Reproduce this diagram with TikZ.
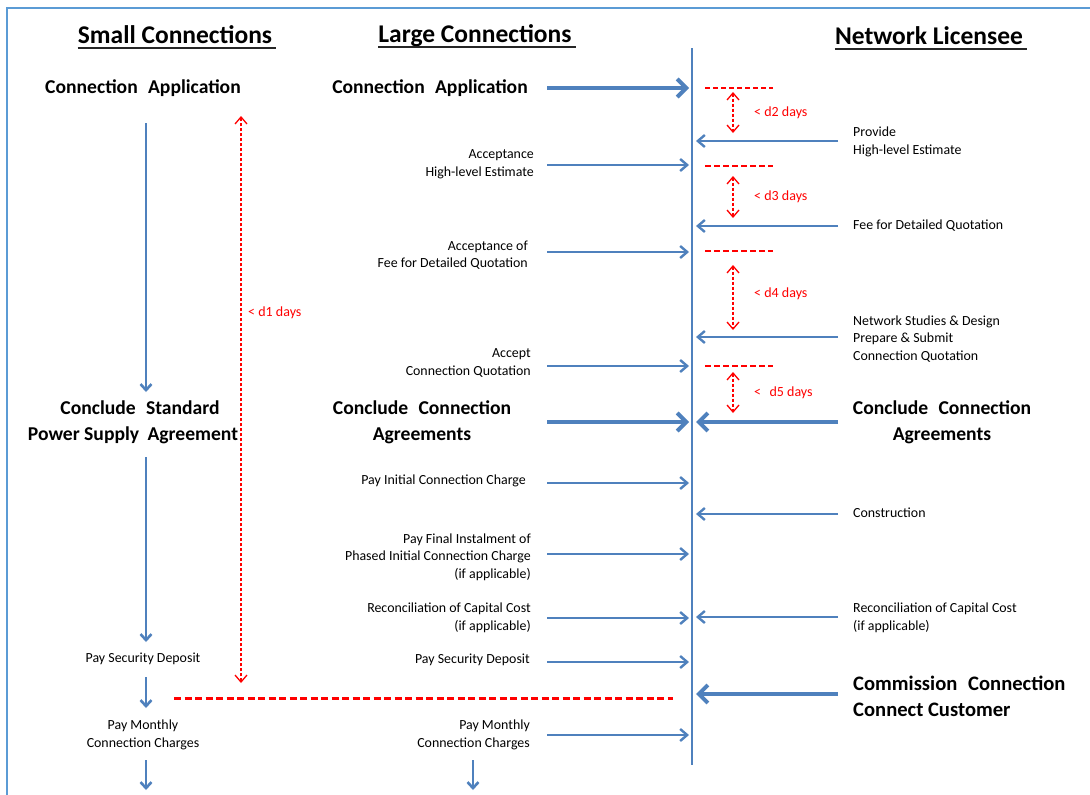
\documentclass[tikz,border=0pt]{standalone}
\usepackage{fontspec}
\setmainfont{Carlito}
\usetikzlibrary{arrows.meta}
\definecolor{lblue}{RGB}{79,129,189}
\definecolor{fblue}{RGB}{91,155,213}
\definecolor{dred}{RGB}{255,0,0}
\newcommand{\fhdr}{\fontsize{25.5}{28}\selectfont\bfseries}
\newcommand{\fbig}{\fontsize{19.6}{26}\selectfont\bfseries}
\newcommand{\fcom}{\fontsize{20.6}{26}\selectfont\bfseries}
\newcommand{\fsm}{\fontsize{13.9}{17.5}\selectfont}
\newcommand{\fred}{\fontsize{14}{16}\selectfont}
\tikzset{
  hdr/.style={font=\fhdr, inner sep=0pt},
  big/.style={font=\fbig, inner sep=0pt, align=center},
  com/.style={font=\fcom, inner sep=0pt, align=left, anchor=west},
  lt/.style={font=\fsm, inner sep=0pt, align=right, anchor=east},
  rt/.style={font=\fsm, inner sep=0pt, align=left, anchor=west},
  ct/.style={font=\fsm, inner sep=0pt, align=center},
  redlab/.style={font=\fred, text=dred, inner sep=0pt, anchor=west},
  thinarr/.style={draw=lblue, line width=2.4pt, -{Straight Barb[length=7pt,width=12pt]}},
  thickarr/.style={draw=lblue, line width=4pt, -{Straight Barb[length=9pt,width=18pt]}},
  downarr/.style={draw=lblue, line width=2.6pt, -{Straight Barb[length=6pt,width=11pt]}},
  darr/.style={draw=dred, line width=1.3pt, densely dashed, {Straight Barb[length=7pt,width=12pt]}-{Straight Barb[length=7pt,width=12pt]}},
  rdash/.style={draw=dred, line width=2.5pt, dash pattern=on 6pt off 3pt},
  rdashthin/.style={draw=dred, line width=1.2pt, dash pattern=on 5pt off 3pt},
  uline/.style={draw=black!85, line width=1.8pt},
}
\begin{document}
\begin{tikzpicture}[x=1pt,y=-1pt]
\useasboundingbox (0,0) rectangle (1090,795);
\fill[white] (0,0) rectangle (1090,795);
% frame
\draw[fblue, line width=2pt] (7,800) -- (7,8) -- (1095,8);

% headers
\node[hdr] (hs) at (175,35) {Small Connections};
\node[hdr] (hl) at (475,36) {Large Connections};
\node[hdr] (hn) at (929,36) {Network Licensee};
\draw[uline] ([yshift=-4pt]hs.base west) -- ([yshift=-4pt,xshift=4pt]hs.base east);
\draw[uline] ([yshift=-4pt]hl.base west) -- ([yshift=-4pt,xshift=4pt]hl.base east);
\draw[uline] ([yshift=-4pt]hn.base west) -- ([yshift=-4pt,xshift=4pt]hn.base east);

% vertical timeline
\coordinate (vt) at (692,48);
\coordinate (vb) at (692,765);
\draw[lblue, line width=2.4pt] (vt) -- (vb);

% small connections column
\node[big] (sa) at (143,88) {Connection\hspace{0.3em} Application};
\node[big] (ss) at (133,422) {\hspace*{14pt}Conclude\hspace{0.3em} Standard\\Power Supply\hspace{0.2em} Agreement};
\node[ct] (sp) at (143,659) {Pay Security Deposit};
\node[ct] (sm) at (143,735) {Pay Monthly\\Connection Charges};
\coordinate (s1a) at (146,123); \coordinate (s1b) at (146,392);
\coordinate (s2a) at (146,457); \coordinate (s2b) at (146,642);
\coordinate (s3a) at (146,677); \coordinate (s3b) at (146,708);
\coordinate (s4a) at (146,760); \coordinate (s4b) at (146,790);
\draw[downarr] (s1a) -- (s1b);
\draw[downarr] (s2a) -- (s2b);
\draw[downarr] (s3a) -- (s3b);
\draw[downarr] (s4a) -- (s4b);

% d1
\coordinate (d1a) at (241,683); \coordinate (d1b) at (241,116);
\draw[darr] (d1a) -- (d1b);
\node[redlab] (d1) at (248,313) {< d1 days};

% long red dashed line
\coordinate (rl1) at (174,698); \coordinate (rl2) at (673,698);
\draw[draw=dred, line width=3pt, dash pattern=on 7pt off 3.5pt] (rl1) -- (rl2);

% large connections column
\node[big] (la) at (430,88) {Connection\hspace{0.3em} Application};
\node[lt] (l1) at (534,164) {Acceptance\\High-level Estimate};
\node[lt] (l2) at (528,255) {Acceptance of\\Fee for Detailed Quotation};
\node[lt] (l3) at (531,363) {Accept\\Connection Quotation};
\node[big] (lc) at (422,422) {Conclude\hspace{0.3em} Connection\\Agreements};
\node[lt] (l4) at (526,481) {Pay Initial Connection Charge};
\node[lt] (l5) at (531,557) {Pay Final Instalment of\\Phased Initial Connection Charge\\(if applicable)};
\node[lt] (l6) at (531,618) {Reconciliation of Capital Cost\\(if applicable)};
\node[lt] (l7) at (530,660) {Pay Security Deposit};
\node[lt] (l8) at (530,735) {Pay Monthly\\Connection Charges};

\foreach \n/\y in {la/88, lc/422}{
  \coordinate (\n s) at (547,\y); \coordinate (\n e) at (689,\y);
  \draw[thickarr] (\n s) -- (\n e);
}
\foreach \n/\y in {l1/165, l2/252, l3/366, l4/483, l5/554, l6/618, l7/662, l8/735}{
  \coordinate (\n s) at (547,\y); \coordinate (\n e) at (689,\y);
  \draw[thinarr] (\n s) -- (\n e);
}
\coordinate (l9a) at (473,760); \coordinate (l9b) at (473,790);
\draw[downarr] (l9a) -- (l9b);

% network licensee column
\node[rt] (r1) at (853,142) {Provide\\High-level Estimate};
\node[rt] (r2) at (853,226) {Fee for Detailed Quotation};
\node[rt] (r3) at (853,339) {Network Studies \& Design\\Prepare \& Submit\\Connection Quotation};
\node[big] (rc) at (942,422) {Conclude\hspace{0.3em} Connection\\Agreements};
\node[rt] (r4) at (853,513) {Construction};
\node[rt] (r5) at (853,618) {Reconciliation of Capital Cost\\(if applicable)};
\node[com] (r6) at (853,696) {Commission\hspace{0.3em} Connection\\Connect Customer};

\foreach \n/\y in {rc/422, r6/694}{
  \coordinate (\n s) at (838,\y); \coordinate (\n e) at (696,\y);
  \draw[thickarr] (\n s) -- (\n e);
}
\foreach \n/\y in {r1/141, r2/226, r3/337, r4/514, r5/617}{
  \coordinate (\n s) at (838,\y); \coordinate (\n e) at (696,\y);
  \draw[thinarr] (\n s) -- (\n e);
}

% red markers near timeline
\coordinate (m1a) at (705,88);  \coordinate (m1b) at (773,88);
\coordinate (m2a) at (705,166); \coordinate (m2b) at (773,166);
\coordinate (m3a) at (705,251); \coordinate (m3b) at (773,251);
\coordinate (m4a) at (705,366); \coordinate (m4b) at (773,366);
\draw[rdashthin] (m1a) -- (m1b);
\draw[rdash] (m2a) -- (m2b);
\draw[rdash] (m3a) -- (m3b);
\draw[rdash] (m4a) -- (m4b);

\coordinate (d2a) at (733,92);  \coordinate (d2b) at (733,133);
\coordinate (d3a) at (733,176); \coordinate (d3b) at (733,218);
\coordinate (d4a) at (733,265); \coordinate (d4b) at (733,330);
\coordinate (d5a) at (733,372); \coordinate (d5b) at (733,413);
\draw[darr] (d2a) -- (d2b);
\draw[darr] (d3a) -- (d3b);
\draw[darr] (d4a) -- (d4b);
\draw[darr] (d5a) -- (d5b);
\node[redlab] (d2) at (754,113) {< d2 days};
\node[redlab] (d3) at (754,197) {< d3 days};
\node[redlab] (d4) at (754,294) {< d4 days};
\node[redlab] (d5) at (754,393) {<\hspace{0.6em}d5 days};
\end{tikzpicture}
\end{document}
